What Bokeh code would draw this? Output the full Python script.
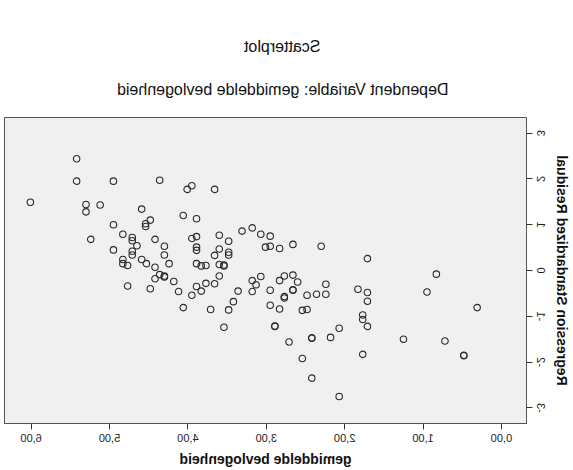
from bokeh.plotting import figure
from bokeh.models import FixedTicker, Title, InlineStyleSheet
from bokeh.embed import file_html
from bokeh.resources import INLINE

title_text = "Scatterplot"
subtitle_text = "Dependent Variable: gemiddelde bevlogenheid"
x_label = "gemiddelde bevlogenheid"
y_label = "Regression Standardized Residual"

x_ticks = [0, 1, 2, 3, 4, 5, 6]
x_tick_labels = ["0,00", "1,00", "2,00", "3,00", "4,00", "5,00", "6,00"]
y_ticks = [-3, -2, -1, 0, 1, 2, 3]
y_tick_labels = ["-3", "-2", "-1", "0", "1", "2", "3"]

# gemiddelde bevlogenheid (x) and standardized residual (y)
x_vals = [5.42, 5.42, 4.95, 4.36, 4.01, 3.95, 3.66, 6.01, 5.30, 5.30, 5.12, 4.59, 4.06, 3.89, 4.54, 4.54, 4.48, 4.95, 3.18,
          5.24, 4.83, 4.71, 4.71, 4.65, 4.42, 4.30, 4.30, 4.95, 4.71, 4.71, 3.95, 3.89, 3.89, 3.89, 3.66, 3.60, 3.48, 3.60, 3.48,
          3.48, 3.31, 3.07, 2.95, 3.01, 2.95, 2.83, 2.66, 2.30, 1.71,
          4.83, 4.83, 4.77, 4.59, 4.53, 4.42, 4.24, 3.89, 3.83, 3.77, 3.60, 3.54, 3.54,
          0.83, 4.77, 4.48, 4.42, 4.36, 4.30, 4.30, 4.18, 4.12, 4.06, 3.95, 3.89, 3.83, 3.77, 3.71, 3.66, 3.60, 3.54, 3.48, 3.42,
          3.36, 3.18, 3.13, 3.18, 3.07, 2.95, 2.95, 2.89, 2.89, 2.83, 2.83, 2.77, 2.66, 2.60, 2.66, 2.66, 2.77, 2.77, 2.48, 2.36,
          2.24, 2.24, 2.54, 2.48, 2.71, 2.42, 2.42, 2.18, 2.07, 2.54, 2.42, 2.07, 1.83, 1.71, 1.71, 1.77, 1.77, 1.71, 1.77, 1.25,
          0.95, 0.72, 0.48, 0.48, 0.31]
y_vals = [2.44, 1.95, 1.95, 1.97, 1.77, 1.85, 1.77, 1.49, 1.44, 1.28, 1.43, 1.34, 1.20, 1.13, 1.02, 0.96, 1.10, 1.00, 0.93,
          0.68, 0.79, 0.72, 0.65, 0.54, 0.68, 0.53, 0.34, 0.45, 0.42, 0.34, 0.70, 0.74, 0.51, 0.44, 0.33, 0.77, 0.64, 0.47, 0.40,
          0.34, 0.86, 0.79, 0.75, 0.51, 0.53, 0.48, 0.57, 0.53, 0.26,
          0.24, 0.15, 0.11, 0.24, 0.15, 0.07, 0.15, 0.15, 0.10, 0.11, 0.13, 0.10, 0.12,
          -0.08, -0.34, -0.40, -0.18, -0.09, -0.12, -0.14, -0.24, -0.46, -0.81, -0.54, -0.35, -0.45, -0.28, -0.85, -0.29, -0.12,
          -1.24, -0.86, -0.68, -0.45, -0.22, -0.31, -0.46, -0.13, -0.43, -0.76, -1.21, -1.22, -0.84, -0.22, -0.12, -0.10, -0.25,
          -0.42, -0.43, -0.57, -0.60, -0.54, -0.52, -0.30, -0.52, -0.87, -0.85, -1.56, -1.47, -1.48, -1.46, -1.26, -1.92, -2.35,
          -2.75, -0.41, -0.48, -0.67, -0.97, -1.07, -1.22, -1.83, -1.50, -0.47, -1.54, -1.85, -1.86, -0.81]
assert len(x_vals) == len(y_vals)

FONT = "Liberation Sans"

# The reference is a horizontally mirrored chart; build it normally and mirror the whole figure.
mirror = InlineStyleSheet(css=":host { transform: scaleX(-1); transform-origin: 50% 50%; }")

p = figure(width=573, height=470, output_backend="svg", toolbar_location=None,
           x_range=(-0.32, 6.34), y_range=(-3.34, 3.34),
           min_border_left=36, min_border_right=5, min_border_top=117, min_border_bottom=47,
           background_fill_color="#f0f0f0", border_fill_color="white",
           outline_line_color="#555555", outline_line_width=1,
           stylesheets=[mirror])
p.title.text = ""

sub = Title(text=subtitle_text, align="left", offset=78, text_font=FONT, text_font_size="16px",
            text_font_style="normal", text_color="#111111", standoff=40)
p.add_layout(sub, "above")
main = Title(text=title_text, align="left", offset=206, text_font=FONT, text_font_size="16px",
             text_font_style="normal", text_color="#111111", standoff=8)
p.add_layout(main, "above")

p.scatter(x_vals, y_vals, marker="circle", size=6.5, fill_color=None,
          line_color="#2a2a2a", line_width=1.1)

p.grid.visible = False

p.xaxis.ticker = FixedTicker(ticks=x_ticks)
p.xaxis.major_label_overrides = {t: l for t, l in zip(x_ticks, x_tick_labels)}
p.yaxis.ticker = FixedTicker(ticks=y_ticks)
p.yaxis.major_label_overrides = {t: l for t, l in zip(y_ticks, y_tick_labels)}

for ax in (p.xaxis[0], p.yaxis[0]):
    ax.axis_line_color = "#555555"
    ax.major_tick_line_color = "#333333"
    ax.major_tick_in = 0
    ax.major_tick_out = 6
    ax.minor_tick_line_color = None
    ax.major_label_text_font = FONT
    ax.major_label_text_font_size = "11px"
    ax.major_label_text_color = "#222222"
    ax.axis_label_text_font = FONT
    ax.axis_label_text_font_size = "14px"
    ax.axis_label_text_font_style = "bold"
    ax.axis_label_text_color = "#111111"
    ax.major_label_standoff = 4
    ax.axis_label_standoff = 6

p.xaxis.axis_label = x_label
p.yaxis.axis_label = y_label
p.yaxis.major_label_orientation = "vertical"

open("out.html", "w").write(file_html(p, INLINE))
